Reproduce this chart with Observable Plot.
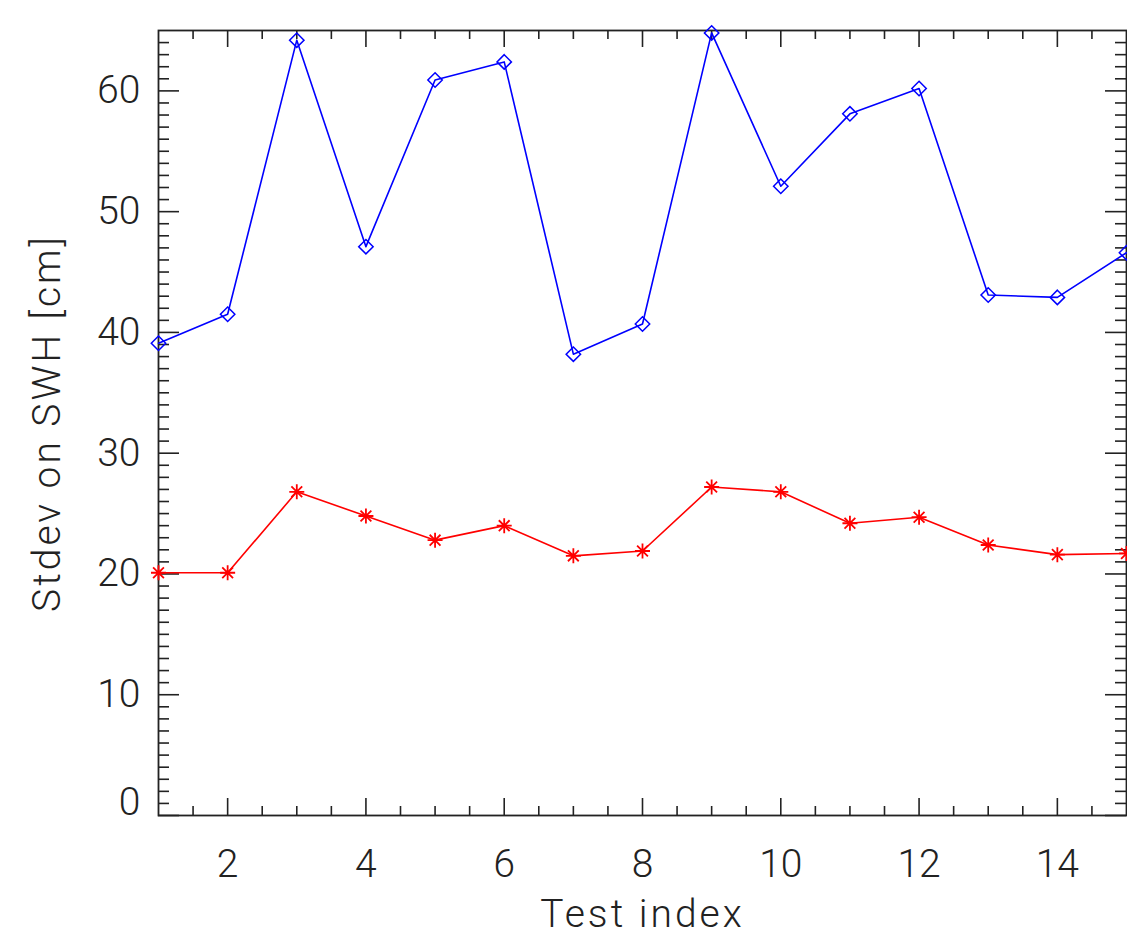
<!DOCTYPE html>
<html>
<head>
<meta charset="utf-8">
<script src="https://cdn.jsdelivr.net/npm/d3@7"></script>
<script src="https://cdn.jsdelivr.net/npm/@observablehq/plot@0.6"></script>
<style>
  html, body { margin: 0; padding: 0; background: #fff; }
  #chart svg { display: block; }
  /* axis titles are set a little wider, like the tick labels' plotter font */
  #chart g[aria-label="text"] text { letter-spacing: 3px; }
</style>
</head>
<body>
<div id="chart"></div>
<script>
// Test runs along the x axis
const testIndex = [1, 2, 3, 4, 5, 6, 7, 8, 9, 10, 11, 12, 13, 14, 15];
// Standard deviation on significant wave height, in cm
const blueSeries = [39.1, 41.5, 64.2, 47.1, 60.9, 62.4, 38.2, 40.7, 64.8, 52.1, 58.1, 60.2, 43.1, 42.9, 46.6];
const redSeries  = [20.1, 20.1, 26.8, 24.8, 22.8, 24.0, 21.5, 21.9, 27.2, 26.8, 24.2, 24.7, 22.4, 21.6, 21.7];

// Tick positions
const xMajor = [2, 4, 6, 8, 10, 12, 14];
const xMinor = d3.range(1.5, 15, 0.5).filter(v => !xMajor.includes(v));
const yLabeled = [10, 20, 30, 40, 50, 60];
const yMajor = [0, 10, 20, 30, 40, 50, 60];
const yMinor = d3.range(1, 65, 1).filter(v => v % 10 !== 0);

const W = 1127, H = 942;
const M = {left: 158, right: 1, top: 30, bottom: 127};
const innerW = W - M.left - M.right;
const innerH = H - M.top - M.bottom;

const ink = "#222";
const fontSize = 39;

const blue = testIndex.map((x, i) => ({x, y: blueSeries[i]}));
const red = testIndex.map((x, i) => ({x, y: redSeries[i]}));

// eight-armed asterisk: a plus with a shorter cross over it
const star8 = {
  draw(context, size) {
    const r = Math.sqrt(size / Math.PI);
    const d = r * 0.72;
    context.moveTo(-r, 0); context.lineTo(r, 0);
    context.moveTo(0, -r); context.lineTo(0, r);
    context.moveTo(-d, -d); context.lineTo(d, d);
    context.moveTo(-d, d); context.lineTo(d, -d);
  }
};

// tick helpers: full-span ticks trimmed with insets to a fixed pixel length
const ticksBottom = (vals, len) => Plot.tickX(vals, {x: d => d, stroke: ink, strokeWidth: 1.6, insetTop: innerH - len});
const ticksTop = (vals, len) => Plot.tickX(vals, {x: d => d, stroke: ink, strokeWidth: 1.6, insetBottom: innerH - len});
const ticksLeft = (vals, len) => Plot.tickY(vals, {y: d => d, stroke: ink, strokeWidth: 1.6, insetRight: innerW - len});
const ticksRight = (vals, len) => Plot.tickY(vals, {y: d => d, stroke: ink, strokeWidth: 1.6, insetLeft: innerW - len});

const chart = Plot.plot({
  width: W,
  height: H,
  marginLeft: M.left,
  marginRight: M.right,
  marginTop: M.top,
  marginBottom: M.bottom,
  style: {fontFamily: "Roboto, Liberation Sans, Arial, sans-serif", fontWeight: 300, color: ink, background: "#fff"},
  x: {domain: [1, 15], axis: null},
  y: {domain: [0, 65], axis: null},
  marks: [
    // box axes with inward ticks on all four sides
    ticksBottom(xMajor, 17), ticksBottom(xMinor, 9),
    ticksTop(xMajor, 17), ticksTop(xMinor, 9),
    ticksLeft(yMajor, 21), ticksLeft(yMinor, 11),
    ticksRight(yMajor, 21), ticksRight(yMinor, 11),
    Plot.frame({stroke: ink, strokeWidth: 1.8}),

    // tick labels
    Plot.axisX(xMajor, {tickSize: 0, tickPadding: 34, fontSize, label: null, fill: ink}),
    Plot.axisY(yLabeled, {tickSize: 0, tickPadding: 18, fontSize, label: null, fill: ink}),
    Plot.axisY([0], {tickSize: 0, tickPadding: 18, fontSize, label: null, fill: ink, dy: -13}),

    // axis titles
    Plot.text(["Test index"], {frameAnchor: "bottom", lineAnchor: "top", dy: 84, fontSize, fill: ink, text: d => d}),
    Plot.text(["Stdev on SWH [cm]"], {frameAnchor: "left", textAnchor: "middle", rotate: -90, dx: -111, fontSize, fill: ink, text: d => d}),

    // series
    Plot.line(blue, {x: "x", y: "y", stroke: "#0000ff", strokeWidth: 1.6}),
    Plot.dot(blue, {x: "x", y: "y", symbol: "diamond2", r: 6.5, stroke: "#0000ff", fill: "none", strokeWidth: 1.5}),
    Plot.line(red, {x: "x", y: "y", stroke: "#ff0000", strokeWidth: 1.6}),
    Plot.dot(red, {x: "x", y: "y", symbol: star8, r: 7.5, stroke: "#ff0000", fill: "none", strokeWidth: 1.8})
  ]
});

document.getElementById("chart").appendChild(chart);
</script>
</body>
</html>
